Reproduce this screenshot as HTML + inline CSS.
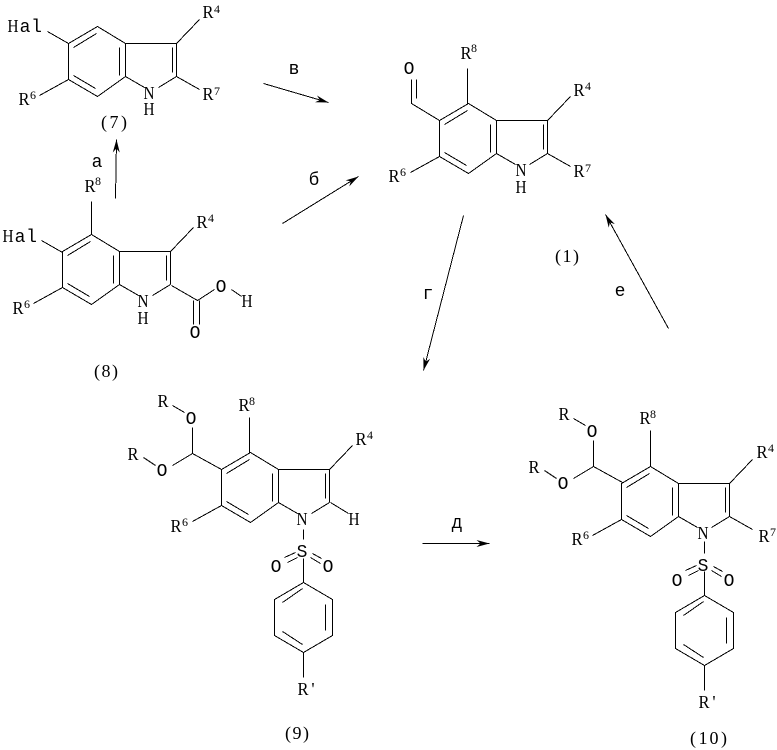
<!DOCTYPE html>
<html><head><meta charset="utf-8">
<style>
html,body{margin:0;padding:0;background:#fff}
svg{display:block}
.l{fill:none;stroke:#000;stroke-width:1;shape-rendering:crispEdges}
text{font-family:"Liberation Serif",serif;font-size:18px;fill:#000;text-anchor:middle}
.s{font-size:12px}
.m{font-family:"Liberation Mono",monospace;font-size:18px}
</style></head><body>
<svg width="777" height="750" viewBox="0 0 777 750" xmlns="http://www.w3.org/2000/svg">
<defs>
<marker id="ah" markerUnits="userSpaceOnUse" markerWidth="14" markerHeight="10" refX="13" refY="5" orient="auto" viewBox="0 0 14 10"><path d="M0 1.5 L13 5 L0 8.5 L4 5Z" fill="#000"/></marker>
<path id="core" class="l" d="M97 26L125 43V76L97 96L68 79V43ZM125 43H176V76M125 76L144 87M176 76L158 87M73 47L96 33M73 75L95 88M119 47V75M172 47V72M39 95L68 79M176 43L199 19"/>
<path id="r7" class="l" d="M176 76L199 89"/>
<path id="ar" class="l" d="M303 582L332 599V635L303 652L274 635V599ZM282 602L302 588M325 604V630M282 631L302 644M303 652V677M303 558V582M284 557L295 552M287 562L297 557M312 553L321 558M310 557L320 563"/>
<path id="ac" class="l" d="M221 469L192 453V427M192 453L172 465M172 405L184 412M143 457L155 465"/>
</defs>
<g transform="translate(0.5 0.5)">
<!-- 7 -->
<use href="#core"/><use href="#r7"/>
<path class="l" d="M47 31L68 43"/>
<!-- 1 -->
<use href="#core" x="371" y="77"/><use href="#r7" x="371" y="77"/>
<path class="l" d="M439 120L411 103V79M416 98V79M467 103V68"/>
<!-- 8 -->
<use href="#core" x="-6" y="208"/>
<path class="l" d="M41 240L62 252M91 234V201M171 285L197 300L214 289M231 289L241 296M193 300V324M199 300V324"/>
<!-- 9 -->
<use href="#core" x="153" y="426"/><use href="#ar"/><use href="#ac"/>
<path class="l" d="M249 453V417M330 502L348 513M303 529V539"/>
<!-- 10 -->
<use href="#core" x="553" y="440"/><use href="#r7" x="553" y="440"/><use href="#ar" x="401" y="13"/><use href="#ac" x="401" y="13"/>
<path class="l" d="M650 466V430M704 541V553"/>
<!-- arrows -->
<path class="l" marker-end="url(#ah)" d="M115 198L116 139"/>
<path class="l" marker-end="url(#ah)" d="M263 83L328 102"/>
<path class="l" marker-end="url(#ah)" d="M282 223L358 176"/>
<path class="l" marker-end="url(#ah)" d="M463 215L423 370"/>
<path class="l" marker-end="url(#ah)" d="M668 328L605 214"/>
<path class="l" marker-end="url(#ah)" d="M422 543H489"/>
</g>
<!-- 7 labels -->
<text x="13" y="32" textLength="11" lengthAdjust="spacingAndGlyphs">H</text><text class="m" x="25" y="32">a</text><text class="m" x="36.5" y="32">l</text>
<text x="208" y="18" textLength="11" lengthAdjust="spacingAndGlyphs">R</text><text class="s" x="217" y="13">4</text>
<text x="24" y="105" textLength="11" lengthAdjust="spacingAndGlyphs">R</text><text class="s" x="33" y="99">6</text>
<text x="208" y="100" textLength="11" lengthAdjust="spacingAndGlyphs">R</text><text class="s" x="217" y="95">7</text>
<text x="149" y="99" textLength="11" lengthAdjust="spacingAndGlyphs">N</text><text x="149" y="115" textLength="11" lengthAdjust="spacingAndGlyphs">H</text>
<text x="104 114 124" y="128">(7)</text>
<text class="m" x="97" y="167">а</text>
<!-- 8 labels -->
<text x="8" y="242" textLength="11" lengthAdjust="spacingAndGlyphs">H</text><text class="m" x="20" y="242">a</text><text class="m" x="31.5" y="242">l</text>
<text x="90" y="192" textLength="11" lengthAdjust="spacingAndGlyphs">R</text><text class="s" x="98" y="185">8</text>
<text x="202" y="228" textLength="11" lengthAdjust="spacingAndGlyphs">R</text><text class="s" x="211" y="222">4</text>
<text x="18" y="314" textLength="11" lengthAdjust="spacingAndGlyphs">R</text><text class="s" x="27" y="308">6</text>
<text x="143" y="307" textLength="11" lengthAdjust="spacingAndGlyphs">N</text><text x="143" y="324" textLength="11" lengthAdjust="spacingAndGlyphs">H</text>
<text class="m" x="221" y="292">O</text><text x="247" y="307" textLength="11" lengthAdjust="spacingAndGlyphs">H</text><text class="m" x="195" y="338">O</text>
<text x="97 106 115" y="377">(8)</text>
<!-- 1 labels -->
<text class="m" x="409" y="74">O</text>
<text x="466" y="59" textLength="11" lengthAdjust="spacingAndGlyphs">R</text><text class="s" x="474" y="52">8</text>
<text x="579" y="96" textLength="11" lengthAdjust="spacingAndGlyphs">R</text><text class="s" x="588" y="90">4</text>
<text x="394" y="182" textLength="11" lengthAdjust="spacingAndGlyphs">R</text><text class="s" x="403" y="176">6</text>
<text x="579" y="177" textLength="11" lengthAdjust="spacingAndGlyphs">R</text><text class="s" x="588" y="172">7</text>
<text x="521" y="176" textLength="11" lengthAdjust="spacingAndGlyphs">N</text><text x="521" y="193" textLength="11" lengthAdjust="spacingAndGlyphs">H</text>
<text x="558 567 576" y="262">(1)</text>
<!-- 9 labels -->
<text x="163" y="407" textLength="11" lengthAdjust="spacingAndGlyphs">R</text><text class="m" x="191" y="424">O</text>
<text x="133" y="460" textLength="11" lengthAdjust="spacingAndGlyphs">R</text><text class="m" x="162" y="476">O</text>
<text x="244" y="411" textLength="11" lengthAdjust="spacingAndGlyphs">R</text><text class="s" x="252" y="405">8</text>
<text x="361" y="445" textLength="11" lengthAdjust="spacingAndGlyphs">R</text><text class="s" x="370" y="439">4</text>
<text x="176" y="532" textLength="11" lengthAdjust="spacingAndGlyphs">R</text><text class="s" x="185" y="526">6</text>
<text x="302" y="525" textLength="11" lengthAdjust="spacingAndGlyphs">N</text><text x="354" y="525" textLength="11" lengthAdjust="spacingAndGlyphs">H</text>
<text class="m" x="302" y="557">S</text><text class="m" x="276" y="572">O</text><text class="m" x="328" y="572">O</text>
<text x="303" y="695" textLength="11" lengthAdjust="spacingAndGlyphs">R</text><text x="313" y="695">'</text>
<text x="288 297 306" y="739">(9)</text>
<!-- 10 labels -->
<text x="564" y="420" textLength="11" lengthAdjust="spacingAndGlyphs">R</text><text class="m" x="592" y="437">O</text>
<text x="534" y="473" textLength="11" lengthAdjust="spacingAndGlyphs">R</text><text class="m" x="563" y="489">O</text>
<text x="645" y="424" textLength="11" lengthAdjust="spacingAndGlyphs">R</text><text class="s" x="653" y="418">8</text>
<text x="762" y="458" textLength="11" lengthAdjust="spacingAndGlyphs">R</text><text class="s" x="771" y="452">4</text>
<text x="577" y="545" textLength="11" lengthAdjust="spacingAndGlyphs">R</text><text class="s" x="586" y="539">6</text>
<text x="764" y="542" textLength="11" lengthAdjust="spacingAndGlyphs">R</text><text class="s" x="773" y="536">7</text>
<text x="703" y="539" textLength="11" lengthAdjust="spacingAndGlyphs">N</text>
<text class="m" x="703" y="571">S</text><text class="m" x="677" y="586">O</text><text class="m" x="729" y="586">O</text>
<text x="704" y="708" textLength="11" lengthAdjust="spacingAndGlyphs">R</text><text x="714" y="708">'</text>
<text x="693 703 714 724" y="744">(10)</text>
<!-- arrow labels -->
<text class="m" x="294" y="74">в</text>
<text class="m" x="314" y="185">б</text>
<text class="m" x="428" y="299">г</text>
<text class="m" x="620" y="296">е</text>
<text class="m" x="457" y="528">д</text>
</svg>
</body></html>
